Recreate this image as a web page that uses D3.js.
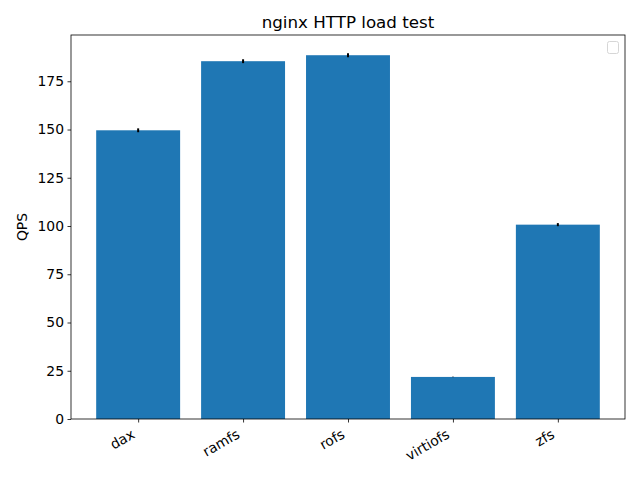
<!DOCTYPE html>
<html><head><meta charset="utf-8">
<script src="https://cdn.jsdelivr.net/npm/d3@7"></script>
<style>body{margin:0;background:#fff}svg{display:block}text{font-family:"DejaVu Sans",sans-serif}</style>
</head><body>
<script>
const categories = ["dax","ramfs","rofs","virtiofs","zfs"];
const values = [149.6, 185.4, 188.5, 21.8, 100.7];
const errors = [1.0, 1.0, 1.0, 0.1, 0.8];
const yTicks = [0,25,50,75,100,125,150,175];
const title = "nginx HTTP load test";
const yLabel = "QPS";

const W=640,H=480, L=71, R=625, T=35, B=419;
const svg=d3.select("body").append("svg").attr("width",W).attr("height",H);
const ymax = d3.max(values.map((v,i)=>v+errors[i]))*1.05;
const y=d3.scaleLinear().domain([0,ymax]).range([B,T]);
const n=categories.length;
const x=d3.scaleLinear().domain([-0.4-0.05*(n-0.2), n-1+0.4+0.05*(n-0.2)]).range([L,R]);
const bw=0.8;

svg.selectAll("rect.bar").data(values).enter().append("rect")
 .attr("x",(d,i)=>x(i-bw/2)).attr("width",(d,i)=>x(i+bw/2)-x(i-bw/2))
 .attr("y",d=>y(d)).attr("height",d=>B-y(d)).attr("fill","#1f77b4");

svg.selectAll("line.err").data(values).enter().append("line")
 .attr("x1",(d,i)=>x(i)).attr("x2",(d,i)=>x(i))
 .attr("y1",(d,i)=>y(d-errors[i])).attr("y2",(d,i)=>y(d+errors[i]))
 .attr("stroke","#000").attr("stroke-width",2);

const yAxis=d3.axisLeft(y).tickValues(yTicks).tickSize(3.5).tickPadding(3.5).tickFormat(d3.format("d"));
const gy=svg.append("g").attr("transform",`translate(${L},0)`).call(yAxis);
gy.select(".domain").remove();
gy.selectAll("text").attr("font-size",13.9).attr("fill","#000").attr("font-family","DejaVu Sans");
gy.selectAll("line").attr("stroke","#000").attr("stroke-width",0.8);

const xAxis=d3.axisBottom(x).tickValues(d3.range(n)).tickSize(3.5).tickFormat(i=>categories[i]);
const gx=svg.append("g").attr("transform",`translate(0,${B})`).call(xAxis);
gx.select(".domain").remove();
gx.selectAll("line").attr("stroke","#000").attr("stroke-width",0.8);
gx.selectAll("text").attr("font-size",13.9).attr("fill","#000").attr("font-family","DejaVu Sans")
 .attr("text-anchor","end").attr("y",null).attr("dy",null)
 .attr("dominant-baseline","hanging")
 .attr("transform","translate(-8,9) rotate(-30)");

svg.append("rect").attr("x",L).attr("y",T).attr("width",R-L).attr("height",B-T)
 .attr("fill","none").attr("stroke","#000").attr("stroke-width",0.8);

svg.append("text").attr("x",(L+R)/2).attr("y",T-7).attr("text-anchor","middle")
 .attr("font-size",16.7).text(title);

svg.append("text").attr("transform",`translate(27,${(T+B)/2}) rotate(-90)`).attr("text-anchor","middle")
 .attr("font-size",13.9).text(yLabel);

svg.append("rect").attr("x",607.5).attr("y",41.5).attr("width",11).attr("height",12).attr("rx",2)
 .attr("fill","#fff").attr("stroke","#d6d6d6").attr("stroke-width",1);
</script>
</body></html>
